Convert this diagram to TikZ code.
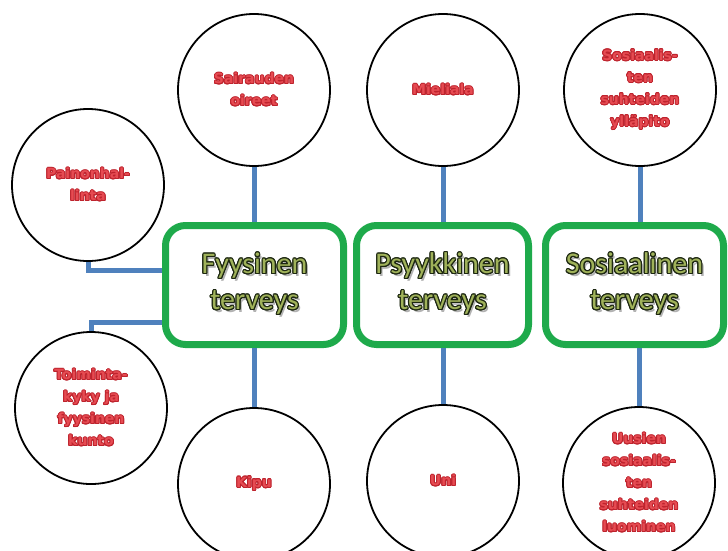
\documentclass[tikz,border=0pt]{standalone}
\usepackage{fontspec}
\setmainfont{DejaVu Sans}
\newfontfamily\boxfont{Carlito}
\usepackage{contour}
\contournumber{16}
\definecolor{labred}{RGB}{230,75,82}
\definecolor{labline}{RGB}{190,35,45}
\definecolor{olivefill}{RGB}{160,178,90}
\definecolor{oliveline}{RGB}{30,40,18}
\definecolor{linkblue}{RGB}{79,129,189}
\definecolor{boxgreen}{RGB}{30,170,75}
\newcommand{\rl}[1]{\contourlength{0.85pt}\contour{labline}{#1}}
\newcommand{\bt}[1]{\leavevmode\rlap{\hspace{2.5pt}\raisebox{-2.5pt}{\textcolor{black!30}{#1}}}\contourlength{1.1pt}\contour{oliveline}{#1}}
\begin{document}
\begin{tikzpicture}[x=1pt,y=-1pt,
  label/.style={circle, draw=black, line width=1.8pt, minimum size=152pt, inner sep=0pt,
    text=labred, font=\bfseries\fontsize{14}{22}\selectfont, align=center},
  area/.style={draw=boxgreen, line width=7pt, rounded corners=20pt, minimum height=119pt,
    inner sep=0pt, fill=white, text=olivefill, font=\boxfont\fontsize{30}{36}\selectfont, align=center},
  link/.style={draw=linkblue, line width=5pt}]
\clip (0,0) rectangle (728,550);
\fill[white] (0,0) rectangle (728,550);

\node[area, minimum width=178pt] (fyys) at (254.5,285) {\bt{Fyysinen}\\\bt{terveys}};
\node[area, minimum width=172pt] (psyk) at (442.5,285) {\bt{Psyykkinen}\\\bt{terveys}};
\node[area, minimum width=178pt] (sosi) at (634.5,285) {\bt{Sosiaalinen}\\\bt{terveys}};

\node[label] (sair) at (254,90) {\rl{Sairauden}\\\rl{oireet}};
\node[label] (pain) at (88,185) {\rl{Painonhal-}\\\rl{linta}};
\node[label] (miel) at (443,90) {\rl{Mieliala}};
\node[label] (sosy) at (640,90) {\rl{Sosiaalis-}\\\rl{ten}\\\rl{suhteiden}\\\rl{ylläpito}};
\node[label] (toim) at (91,408) {\rl{Toiminta-}\\\rl{kyky ja}\\\rl{fyysinen}\\\rl{kunto}};
\node[label] (kipu) at (254,484) {\rl{Kipu}};
\node[label] (uni) at (443,481) {\rl{Uni}};
\node[label] (uusi) at (639,483) {\rl{Uusien}\\\rl{sosiaalis-}\\\rl{ten}\\\rl{suhteiden}\\\rl{luominen}};

\coordinate (pj) at ([yshift=15pt]fyys.west);
\coordinate (tj) at ([yshift=-37pt]fyys.west);

\draw[link] (sair.south) -- (sair.south |- fyys.north);
\draw[link] (kipu.north) -- (kipu.north |- fyys.south);
\draw[link] (miel.south) -- (miel.south |- psyk.north);
\draw[link] (uni.north) -- (uni.north |- psyk.south);
\draw[link] (sosy.south) -- (sosy.south |- sosi.north);
\draw[link] (uusi.north) -- (uusi.north |- sosi.south);
\draw[link] (pain.south) |- (pj);
\draw[link] (toim.north) |- (tj);
\end{tikzpicture}
\end{document}
